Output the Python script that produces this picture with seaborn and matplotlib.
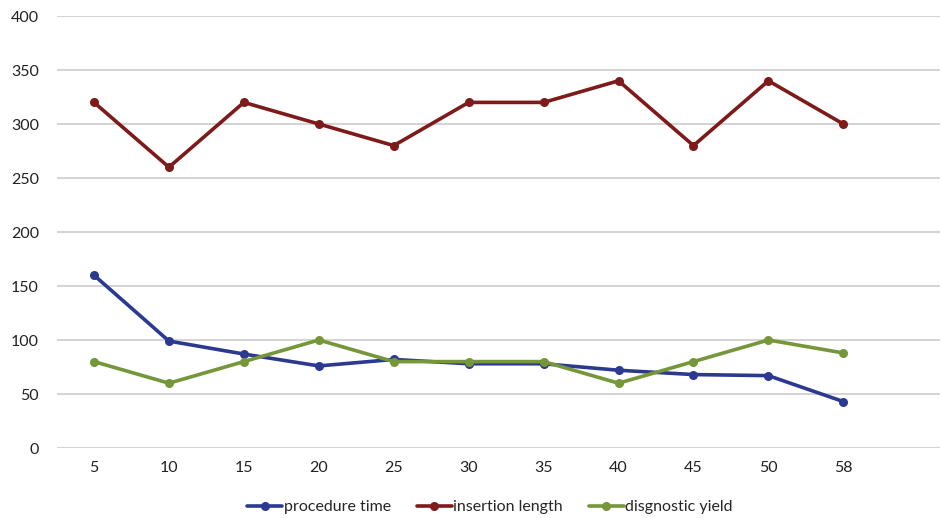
import matplotlib
matplotlib.use("Agg")
import matplotlib.pyplot as plt
import seaborn as sns
import pandas as pd

categories = ["5", "10", "15", "20", "25", "30", "35", "40", "45", "50", "58"]
procedure_time = [160, 99, 87, 76, 82, 78, 78, 72, 68, 67, 43]
insertion_length = [320, 260, 320, 300, 280, 320, 320, 340, 280, 340, 300]
diagnostic_yield = [80, 60, 80, 100, 80, 80, 80, 60, 80, 100, 88]
series_names = ["procedure time", "insertion length", "disgnostic yield"]
colors = ["#2B3990", "#7E1A1A", "#76963A"]

rows = []
for name, vals in zip(series_names, [procedure_time, insertion_length, diagnostic_yield]):
    for c, v in zip(categories, vals):
        rows.append({"x": c, "value": v, "series": name})
df = pd.DataFrame(rows)

sns.set_style("white")
plt.rcParams["font.family"] = ["Lato", "DejaVu Sans"]

fig = plt.figure(figsize=(9.42, 5.18), dpi=100)
ax = fig.add_axes([57/942, (518-448)/518, (940-57)/942, (448-16)/518])

sns.lineplot(data=df, x="x", y="value", hue="series", hue_order=series_names,
             palette=colors, marker="o", markersize=6.5, markeredgewidth=0,
             linewidth=2.6, sort=False, ax=ax, legend=True)

ax.set_ylim(0, 400)
ax.set_yticks(range(0, 401, 50))
ax.set_xlim(-0.494, 11.29)
ax.yaxis.grid(True, color="#c8c8c8", linewidth=1.1)
ax.set_axisbelow(True)
for s in ax.spines.values():
    s.set_visible(False)
ax.tick_params(axis="both", length=0, labelsize=11.5, colors="#222222")
ax.tick_params(axis="y", pad=13)
ax.tick_params(axis="x", pad=9)
ax.set_xlabel("")
ax.set_ylabel("")

handles, labels = ax.get_legend_handles_labels()
ax.legend_.remove()
fig.legend(handles, labels, loc="center", bbox_to_anchor=(490/942, 1 - 507/518),
           ncol=3, frameon=False, fontsize=11.5, handlelength=2.2, handletextpad=0.1,
           columnspacing=1.6)

fig.savefig("out.png", dpi=100)
